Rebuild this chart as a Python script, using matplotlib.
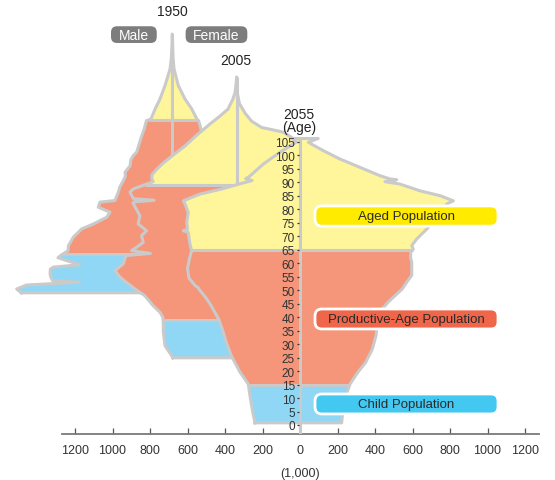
import numpy as np
import matplotlib
matplotlib.use("Agg")
import matplotlib.pyplot as plt
from matplotlib.patches import FancyBboxPatch

plt.rcParams['font.family'] = ['Liberation Sans', 'DejaVu Sans']

# ---------------- data: population (thousands) by single year of age ----------------
ages_m_1950 = [0.8, 1.2, 2.2, 3.7, 4.7, 5.4, 6.6, 7.8, 9.6, 10.3, 11.2, 13.8, 14.8, 16.4, 18.3,
               21.4, 24.5, 26.3, 28.8, 30.7, 32.5, 34.4, 35.0, 38.1, 40.0, 42.4, 44.0, 45.5, 47.9,
               50.0, 51.5, 53.0, 55.2, 58.6, 61.5, 64.6, 65.2, 68.9, 72.6, 77.6, 83.8, 88.0, 92.0, 96.7]
male_1950 = [805, 812, 830, 777, 495, 640, 648, 652, 650, 635, 495, 610, 592, 556, 554,
             528, 483, 421, 350, 332, 395, 386, 306, 288, 280, 261, 250, 252, 225,
             222, 210, 190, 180, 165, 150, 138, 114, 92, 66, 39, 12, 5, 2, 0]
ages_f_1950 = [0.8, 2.2, 3.7, 4.7, 5.4, 8.0, 10.3, 11.2, 13.8, 14.8, 18.0, 22.0, 26.0, 30.0, 35.0,
               40.0, 45.0, 50.0, 55.0, 58.4, 60.3, 62.8, 64.6, 65.2, 68.9, 72.6, 77.6, 83.8, 88.0, 92.0, 96.7]
female_1950 = [770, 790, 740, 480, 610, 625, 610, 480, 585, 570, 540, 520, 470, 420, 360,
               320, 280, 240, 200, 175, 156, 148, 140, 131, 104, 68, 32, 9, 4, 2, 0]

ages_m_2005 = [0.8, 1.6, 5.3, 10.3, 12.7, 15.8, 17.7, 20.1, 23.8, 26.3, 29.4, 30.7, 33.1, 35.6, 38.7,
               39.5, 40.5, 41.8, 43.6, 46.1, 47.9, 50.4, 53.5, 58.2, 58.6, 59.2, 59.8, 62.2, 63.4,
               66.1, 67.1, 68.6, 70.8, 72.6, 75.6, 79.3, 82.7, 87.5, 90.4, 93.0, 96.7, 99.2, 102.3, 104.9]
male_2005 = [340, 347, 382, 391, 391, 393, 409, 445, 489, 542, 600, 622, 649, 605, 590,
             460, 560, 533, 498, 507, 480, 525, 516, 553, 545, 440, 550, 569, 551,
             445, 452, 452, 425, 398, 345, 276, 223, 142, 89, 46, 20, 8, 3, 0]
ages_f_2005 = [0.8, 5, 10, 15, 20, 25, 30, 33, 36, 39.5, 40.5, 45, 50, 55, 58, 59.2, 60.5, 63, 66,
               70, 75, 78, 80.1, 82.5, 84.4, 85.0, 86.2, 88.5, 91.5, 95, 99.2, 102.3, 104.9]
female_2005 = [325, 362, 372, 380, 425, 510, 600, 630, 590, 450, 545, 500, 520, 545, 560, 440, 560, 570, 540,
               500, 420, 360, 320, 293, 250, 213, 133, 80, 45, 15, 3, 1, 0]

ages_m_2055 = [0.8, 4.7, 10.9, 15.2, 19.6, 25.5, 30, 35, 39, 44, 47, 50, 51, 51.6, 54.4, 58, 61.5, 64.6,
               67.1, 71.4, 72.0, 72.6, 75.1, 78.8, 81.9, 83.1, 85.6, 87.5, 89.5, 90.6, 91.3, 92.0,
               96.7, 101.1, 104.9, 106.2]
male_2055 = [240, 252, 267, 276, 320, 365, 390, 412, 432, 472, 500, 535, 545, 558, 592, 600, 590, 578,
             587, 596, 622, 600, 604, 596, 613, 622, 533, 416, 315, 255, 290, 272,
             196, 107, 18, 36]
ages_f_2055 = [0.8, 7.2, 11, 15.2, 19.5, 23.2, 28, 33, 36, 40, 43, 45.5, 47.5, 50.4, 53, 55.5, 60.3, 62,
               64, 65.2, 66.5, 68.9, 72.6, 75, 78, 80.5, 81.9, 83.1, 85, 86.8, 89.3, 90.2, 90.9, 91.2,
               92.4, 95.5, 98.6, 101.7, 104.8, 106.2]
female_2055 = [222, 232, 245, 267, 308, 350, 385, 405, 410, 420, 438, 470, 500, 545, 570, 596, 596, 590,
               590, 604, 596, 622, 676, 705, 745, 770, 782, 818, 747, 640, 533, 453, 516, 480,
               427, 320, 213, 124, 44, 97]

years = ["1950", "2005", "2055"]
age_bands = [15, 65]            # child | productive | aged
band_labels = ["Child Population", "Productive-Age Population", "Aged Population"]
x_ticks = [-1200, -1000, -800, -600, -400, -200, 0, 200, 400, 600, 800, 1000, 1200]

# ---------------- style ----------------
C_CHILD, C_PROD, C_AGED = '#8FD7F5', '#F5967A', '#FFF59A'
C_LAB = ['#43C8F2', '#F0664A', '#FFEB00']
C_LINE = '#CACACA'
LW = 2.2

W, H = 555, 481
axis_y_px = 434.7
fig = plt.figure(figsize=(W / 100, H / 100), dpi=100)
ax = fig.add_axes([0, (H - axis_y_px) / H, 1, axis_y_px / H])
X0, X1 = -1600, 1360
Y0, Y1 = -3.225, 157.9
ax.set_xlim(X0, X1)
ax.set_ylim(Y0, Y1)
ax.patch.set_alpha(0)
px_x = W / (X1 - X0)
px_y = axis_y_px / (Y1 - Y0)

for s in ['top', 'right']:
    ax.spines[s].set_visible(False)
ax.spines['left'].set_position(('data', -8))
ax.spines['left'].set_visible(False)
ax.spines['bottom'].set_bounds(-1269, 1274)
ax.spines['bottom'].set_color('#7a7a7a')
ax.spines['bottom'].set_linewidth(1.3)
ax.set_xticks(x_ticks)
ax.set_xticklabels([str(abs(v)) for v in x_ticks])
ax.tick_params(axis='x', direction='in', length=4.3, width=0.9, color='#555555',
               labelsize=9, labelcolor='#333333', pad=7.5)
ax.set_yticks(range(0, 106, 5))
ax.tick_params(axis='y', direction='out', length=1.6, width=0.9, color='#333333',
               labelsize=8.5, labelcolor='#333333', pad=1)
ax.yaxis.set_zorder(20)


def draw_pyramid(am, vm, af, vf, dx, dy, z, line_lo=None):
    am, vm, af, vf = (np.asarray(v, float) for v in (am, vm, af, vf))
    bottom = min(am.min(), af.min())
    top = max(am.max(), af.max())
    edges = [bottom] + age_bands + [top]
    cols = [C_CHILD, C_PROD, C_AGED]
    for lo, hi, col in zip(edges[:-1], edges[1:], cols):
        a = np.unique(np.concatenate([am[(am > lo) & (am < hi)], af[(af > lo) & (af < hi)], [lo, hi]]))
        xm = np.interp(a, am, vm)
        xf = np.interp(a, af, vf)
        xs = np.concatenate([dx - xm, (dx + xf)[::-1]])
        ys = np.concatenate([a + dy, (a + dy)[::-1]])
        ax.fill(xs, ys, color=col, lw=0, zorder=z)
    for b in age_bands:
        ax.plot([dx - np.interp(b, am, vm), dx + np.interp(b, af, vf)], [b + dy, b + dy],
                color=C_LINE, lw=LW, zorder=z + 0.1, solid_capstyle='butt')
    xs = np.concatenate([dx - vm, (dx + vf)[::-1], [dx - vm[0]]])
    ys = np.concatenate([am + dy, (af + dy)[::-1], [am[0] + dy]])
    ax.plot(xs, ys, color=C_LINE, lw=LW, zorder=z + 0.2, solid_joinstyle='round')
    lo = bottom + dy if line_lo is None else line_lo
    ax.plot([dx, dx], [lo, top + dy], color=C_LINE, lw=LW, zorder=z + 0.3, solid_capstyle='butt')


draw_pyramid(ages_m_1950, male_1950, ages_f_1950, female_1950, -681, 48.2, 1)
draw_pyramid(ages_m_2005, male_2005, ages_f_2005, female_2005, -338, 24.1, 2)
draw_pyramid(ages_m_2055, male_2055, ages_f_2055, female_2055, 0, 0, 3, line_lo=Y0)


def rbox(x0, x1, y0, y1, r_px, fc, ec, lw, z):
    p = FancyBboxPatch((x0, y0), x1 - x0, y1 - y0,
                       boxstyle=f"round,pad=0,rounding_size={r_px / px_x}",
                       mutation_aspect=px_x / px_y, fc=fc, ec=ec, lw=lw, zorder=z)
    ax.add_patch(p)


# category labels
lab_y = [(4.1, 11.5), (35.6, 43.0), (73.7, 81.2)]
for (y0, y1), txt, col in zip(lab_y, band_labels, C_LAB):
    rbox(80, 1056, y0, y1, 7, col, 'white', 2.0, 10)
    ax.text(566, (y0 + y1) / 2, txt, ha='center', va='center', fontsize=9.5,
            color='#2a2a2a', zorder=11)

# Male / Female badges
rbox(-1008, -764, 141.6, 147.8, 6, '#7d7d7d', 'none', 0, 10)
rbox(-610, -281, 141.6, 147.8, 6, '#7d7d7d', 'none', 0, 10)
ax.text(-886, 144.6, 'Male', ha='center', va='center', fontsize=10, color='white', zorder=11)
ax.text(-445, 144.6, 'Female', ha='center', va='center', fontsize=10, color='white', zorder=11)

# year labels
ax.text(-680, 153.3, years[0], ha='center', va='center', fontsize=10, color='#222222', zorder=11)
ax.text(-341, 135.3, years[1], ha='center', va='center', fontsize=10, color='#222222', zorder=11)
ax.text(-5, 115.3, years[2], ha='center', va='center', fontsize=10, color='#222222', zorder=11)
ax.text(-5, 110.3, '(Age)', ha='center', va='center', fontsize=10, color='#222222', zorder=11)
ax.text(0, -17.8, '(1,000)', ha='center', va='center', fontsize=9, color='#333333')

fig.savefig('out.png', dpi=100)
